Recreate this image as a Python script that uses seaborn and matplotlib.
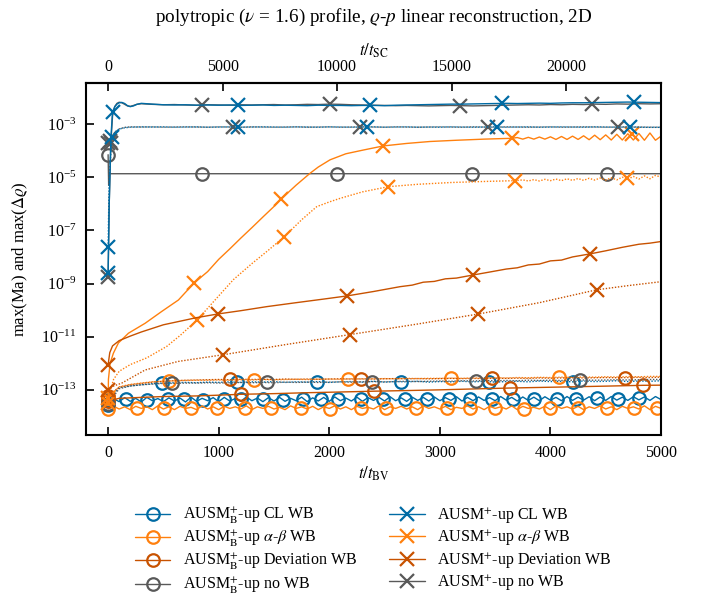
import matplotlib
matplotlib.use("Agg")
import matplotlib.pyplot as plt
from matplotlib.lines import Line2D
from matplotlib.ticker import NullLocator, FixedLocator, LogFormatterSciNotation
import seaborn as sns

# ---------------- data ----------------
T_SC_PER_T_BV = 4.83          # conversion factor of the top axis
T50 = list(range(0, 5001, 50))
T100 = list(range(0, 5001, 100))
T400 = list(range(400, 5001, 100))

# --- AUSM_B^+ -up CL WB (blue, circles)
bcl_solid_y = [
    2.8e-14, 4.6e-14, 3.6e-14, 5.1e-14, 3.7e-14, 4.8e-14, 3.5e-14, 5.2e-14, 3.9e-14, 4.7e-14,
    3.6e-14, 5.0e-14, 3.8e-14, 4.9e-14, 3.5e-14, 5.3e-14, 3.7e-14, 4.8e-14, 3.9e-14, 5.1e-14,
    3.6e-14, 5.2e-14, 3.8e-14, 4.7e-14, 3.7e-14, 5.4e-14, 3.9e-14, 4.9e-14, 3.6e-14, 5.1e-14,
    3.8e-14, 5.2e-14, 3.7e-14, 4.8e-14, 3.9e-14, 5.3e-14, 3.6e-14, 5.0e-14, 3.8e-14, 5.2e-14,
    3.7e-14, 5.4e-14, 3.9e-14, 4.9e-14, 3.8e-14, 5.3e-14, 3.7e-14, 5.1e-14, 4.0e-14, 5.2e-14,
    3.8e-14, 5.5e-14, 3.9e-14, 5.0e-14, 3.7e-14, 5.3e-14, 4.0e-14, 5.2e-14, 3.8e-14, 5.4e-14,
    3.9e-14, 5.1e-14, 4.0e-14, 5.5e-14, 3.8e-14, 5.2e-14, 3.9e-14, 5.4e-14, 4.0e-14, 5.1e-14,
    3.9e-14, 5.6e-14, 4.1e-14, 5.2e-14, 3.8e-14, 5.4e-14, 4.0e-14, 5.3e-14, 3.9e-14, 5.5e-14,
    4.1e-14, 5.2e-14, 3.9e-14, 5.6e-14, 4.0e-14, 5.3e-14, 4.1e-14, 5.5e-14, 3.9e-14, 5.4e-14,
    4.0e-14, 5.6e-14, 4.1e-14, 5.3e-14, 4.0e-14, 5.5e-14, 4.2e-14, 5.4e-14, 4.0e-14, 5.6e-14,
    4.3e-14]
bcl_solid_mt = [0, 166, 355, 538, 690, 862, 1045, 1200, 1400, 1580, 1762, 1924, 2079, 2286,
                2490, 2683, 2883, 3080, 3269, 3469, 3666, 3855, 4062, 4234, 4424, 4614, 4800]
bcl_solid_my = [2.8e-14, 4.4e-14, 4.3e-14, 4.5e-14, 4.4e-14, 4.3e-14, 4.5e-14, 4.4e-14, 4.5e-14,
                4.3e-14, 4.5e-14, 4.6e-14, 4.4e-14, 4.6e-14, 4.5e-14, 4.4e-14, 4.6e-14, 4.5e-14,
                4.7e-14, 4.6e-14, 4.5e-14, 4.7e-14, 4.6e-14, 4.7e-14, 4.8e-14, 4.6e-14, 4.8e-14]
bcl_dot_y = [
    0.40e-13, 1.20e-13, 1.40e-13, 1.55e-13, 1.70e-13, 1.80e-13, 1.85e-13, 1.90e-13, 1.85e-13, 1.95e-13,
    1.90e-13, 2.00e-13, 1.90e-13, 2.00e-13, 1.95e-13, 2.05e-13, 1.90e-13, 2.00e-13, 1.95e-13, 2.05e-13,
    1.90e-13, 2.00e-13, 2.05e-13, 1.95e-13, 2.10e-13, 1.95e-13, 2.05e-13, 2.00e-13, 2.10e-13, 1.95e-13,
    2.05e-13, 2.00e-13, 2.10e-13, 2.00e-13, 2.10e-13, 1.95e-13, 2.05e-13, 2.10e-13, 2.00e-13, 2.15e-13,
    2.05e-13, 2.10e-13, 2.00e-13, 2.15e-13, 2.05e-13, 2.10e-13, 2.20e-13, 2.05e-13, 2.15e-13, 2.10e-13,
    2.20e-13]
bcl_dot_mt = [0, 490, 1170, 1890, 2650, 3440, 4200]
bcl_dot_my = [4.0e-14, 1.8e-13, 2.0e-13, 2.0e-13, 2.05e-13, 2.0e-13, 2.0e-13]

# --- AUSM_B^+ -up alpha-beta WB (orange, circles)
bab_solid_y = [
    1.9e-14, 2.4e-14, 1.9e-14, 2.3e-14, 1.8e-14, 2.4e-14, 2.0e-14, 2.3e-14, 1.8e-14, 2.5e-14,
    1.9e-14, 2.3e-14, 1.8e-14, 2.4e-14, 2.0e-14, 2.2e-14, 1.8e-14, 2.5e-14, 1.9e-14, 2.3e-14,
    1.8e-14, 2.4e-14, 2.0e-14, 2.3e-14, 1.9e-14, 2.5e-14, 1.8e-14, 2.3e-14, 2.0e-14, 2.4e-14,
    1.9e-14, 2.2e-14, 1.8e-14, 2.5e-14, 2.0e-14, 2.3e-14, 1.9e-14, 2.4e-14, 1.8e-14, 2.3e-14,
    2.0e-14, 2.5e-14, 1.9e-14, 2.3e-14, 1.8e-14, 2.4e-14, 2.0e-14, 2.2e-14, 1.9e-14, 2.5e-14,
    1.8e-14, 2.3e-14, 2.0e-14, 2.4e-14, 1.9e-14, 2.3e-14, 1.8e-14, 2.5e-14, 2.0e-14, 2.3e-14,
    1.9e-14, 2.4e-14, 1.8e-14, 2.2e-14, 2.0e-14, 2.5e-14, 1.9e-14, 2.3e-14, 1.8e-14, 2.4e-14,
    2.0e-14, 2.3e-14, 1.9e-14, 2.5e-14, 1.8e-14, 2.4e-14, 2.0e-14, 2.2e-14, 1.9e-14, 2.4e-14,
    1.8e-14, 2.5e-14, 2.0e-14, 2.3e-14, 1.9e-14, 2.4e-14, 1.8e-14, 2.3e-14, 2.0e-14, 2.5e-14,
    1.9e-14, 2.3e-14, 1.8e-14, 2.4e-14, 2.0e-14, 2.3e-14, 1.9e-14, 2.5e-14, 1.8e-14, 2.4e-14,
    2.0e-14]
bab_solid_mt = [0, 262, 503, 752, 986, 1241, 1476, 1745, 2010, 2286, 2510, 2786, 3062, 3269,
                3503, 3759, 4000, 4252, 4510, 4759, 4966]
bab_solid_my = [1.9e-14, 2.1e-14, 2.1e-14, 2.0e-14, 2.1e-14, 2.0e-14, 2.1e-14, 2.0e-14, 1.9e-14,
                2.1e-14, 2.0e-14, 2.1e-14, 2.0e-14, 2.1e-14, 2.0e-14, 1.9e-14, 2.1e-14, 2.0e-14,
                2.1e-14, 2.0e-14, 2.1e-14]
bab_dot_y = [
    0.50e-13, 1.30e-13, 1.60e-13, 1.80e-13, 2.00e-13, 2.10e-13, 2.20e-13, 2.25e-13, 2.30e-13, 2.30e-13,
    2.35e-13, 2.30e-13, 2.40e-13, 2.35e-13, 2.45e-13, 2.40e-13, 2.45e-13, 2.50e-13, 2.45e-13, 2.50e-13,
    2.55e-13, 2.50e-13, 2.60e-13, 2.55e-13, 2.60e-13, 2.65e-13, 2.60e-13, 2.70e-13, 2.65e-13, 2.70e-13,
    2.70e-13, 2.75e-13, 2.70e-13, 2.80e-13, 2.75e-13, 2.85e-13, 2.80e-13, 2.90e-13, 2.85e-13, 2.95e-13,
    2.90e-13, 3.00e-13, 2.95e-13, 3.05e-13, 3.00e-13, 3.10e-13, 3.05e-13, 3.15e-13, 3.10e-13, 3.20e-13,
    3.20e-13]
bab_dot_mt = [0, 552, 1320, 2165, 3097, 4079]
bab_dot_my = [5.0e-14, 2.2e-13, 2.4e-13, 2.6e-13, 2.7e-13, 3.0e-13]

# --- AUSM_B^+ -up Deviation WB (dark orange, circles)
bdev_solid_t = [0, 100, 300, 500, 800, 1000, 1200, 1500, 1800, 2100, 2407, 2700, 3000, 3300,
                3631, 3900, 4200, 4500, 4838, 5000]
bdev_solid_y = [3.8e-14, 4.8e-14, 5.2e-14, 5.6e-14, 5.9e-14, 6.3e-14, 6.8e-14, 7.2e-14, 7.8e-14,
                8.3e-14, 8.9e-14, 9.4e-14, 1.00e-13, 1.08e-13, 1.17e-13, 1.23e-13, 1.30e-13,
                1.38e-13, 1.48e-13, 1.50e-13]
bdev_solid_mt = [0, 1200, 2407, 3631, 4838]
bdev_solid_my = [3.8e-14, 6.8e-14, 8.9e-14, 1.17e-13, 1.48e-13]
bdev_dot_y = [
    0.60e-13, 1.25e-13, 1.55e-13, 1.75e-13, 1.95e-13, 2.10e-13, 2.20e-13, 2.30e-13, 2.35e-13, 2.40e-13,
    2.45e-13, 2.40e-13, 2.50e-13, 2.45e-13, 2.50e-13, 2.45e-13, 2.55e-13, 2.50e-13, 2.55e-13, 2.50e-13,
    2.55e-13, 2.60e-13, 2.55e-13, 2.60e-13, 2.55e-13, 2.60e-13, 2.65e-13, 2.60e-13, 2.65e-13, 2.60e-13,
    2.65e-13, 2.70e-13, 2.65e-13, 2.70e-13, 2.65e-13, 2.75e-13, 2.70e-13, 2.75e-13, 2.70e-13, 2.80e-13,
    2.75e-13, 2.80e-13, 2.85e-13, 2.80e-13, 2.85e-13, 2.90e-13, 2.85e-13, 2.90e-13, 2.95e-13, 2.90e-13,
    3.00e-13]
bdev_dot_mt = [0, 1103, 2286, 3469, 4676]
bdev_dot_my = [6.0e-14, 2.45e-13, 2.55e-13, 2.7e-13, 2.9e-13]

# --- AUSM_B^+ -up no WB (grey, circles)
bno_solid_t = [0, 5, 10, 5000]
bno_solid_y = [7.0e-5, 5.0e-6, 1.35e-5, 1.35e-5]
bno_solid_mt = [0, 847, 2067, 3288, 4508]
bno_solid_my = [7.0e-5, 1.35e-5, 1.35e-5, 1.35e-5, 1.35e-5]
bno_dot_y = [
    0.30e-13, 1.10e-13, 1.40e-13, 1.55e-13, 1.65e-13, 1.75e-13, 1.75e-13, 1.80e-13, 1.80e-13, 1.85e-13,
    1.80e-13, 1.85e-13, 1.90e-13, 1.85e-13, 1.90e-13, 1.85e-13, 1.95e-13, 1.90e-13, 1.95e-13, 1.90e-13,
    1.95e-13, 2.00e-13, 1.95e-13, 2.00e-13, 2.05e-13, 2.00e-13, 2.05e-13, 2.10e-13, 2.05e-13, 2.10e-13,
    2.15e-13, 2.10e-13, 2.20e-13, 2.15e-13, 2.25e-13, 2.20e-13, 2.25e-13, 2.20e-13, 2.30e-13, 2.25e-13,
    2.30e-13, 2.25e-13, 2.30e-13, 2.35e-13, 2.30e-13, 2.35e-13, 2.40e-13, 2.35e-13, 2.40e-13, 2.45e-13,
    2.45e-13]
bno_dot_mt = [0, 579, 1441, 2390, 3328, 4269]
bno_dot_my = [3.0e-14, 1.75e-13, 1.9e-13, 2.05e-13, 2.2e-13, 2.3e-13]

# --- AUSM^+ -up CL WB (blue, crosses)
pcl_solid_t = [0, 10, 25, 40, 60, 80, 100, 124, 150, 175, 200, 230, 260, 300] + T400
pcl_solid_y = [2.5e-9, 1.0e-6, 3.0e-4, 2.8e-3, 4.5e-3, 5.6e-3, 6.3e-3, 6.5e-3, 5.9e-3, 4.9e-3,
               4.5e-3, 4.8e-3, 5.5e-3, 6.0e-3,
               5.6e-3, 5.3e-3, 5.2e-3, 5.3e-3, 5.1e-3, 5.2e-3, 5.1e-3, 5.2e-3, 5.0e-3, 5.1e-3,
               5.2e-3, 5.0e-3, 5.1e-3, 5.0e-3, 4.9e-3, 5.1e-3, 5.0e-3, 5.0e-3, 4.9e-3, 5.0e-3,
               5.0e-3, 4.9e-3, 5.1e-3, 5.2e-3, 5.3e-3, 5.4e-3, 5.5e-3, 5.6e-3, 5.6e-3, 5.7e-3,
               5.8e-3, 5.9e-3, 6.0e-3, 5.9e-3, 6.0e-3, 6.1e-3, 6.0e-3, 6.2e-3, 6.3e-3, 6.3e-3,
               6.4e-3, 6.5e-3, 6.6e-3, 6.7e-3, 6.6e-3, 6.5e-3, 6.4e-3]
pcl_solid_mt = [0, 40, 1178, 2369, 3560, 4756]
pcl_solid_my = [2.5e-9, 2.8e-3, 5.1e-3, 5.0e-3, 6.0e-3, 6.6e-3]
pcl_dot_t = [0, 10, 35, 60, 100, 150, 200, 300] + T400
pcl_dot_y = [2.4e-8, 1.0e-5, 3.2e-4, 5.0e-4, 6.5e-4, 7.2e-4, 7.6e-4, 7.8e-4,
             7.7e-4, 7.8e-4, 7.6e-4, 7.7e-4, 7.8e-4, 7.6e-4, 7.7e-4, 7.8e-4, 7.6e-4, 7.7e-4,
             7.8e-4, 7.7e-4, 7.6e-4, 7.8e-4, 7.7e-4, 7.6e-4, 7.8e-4, 7.7e-4, 7.6e-4, 7.7e-4,
             7.8e-4, 7.6e-4, 7.7e-4, 7.8e-4, 7.6e-4, 7.7e-4, 7.6e-4, 7.8e-4, 7.7e-4, 7.6e-4,
             7.7e-4, 7.8e-4, 7.6e-4, 7.7e-4, 7.8e-4, 7.6e-4, 7.7e-4, 7.8e-4, 7.7e-4, 7.6e-4,
             7.8e-4, 7.7e-4, 7.6e-4, 7.7e-4, 7.6e-4, 7.5e-4, 7.5e-4]
pcl_dot_mt = [0, 35, 1175, 2342, 3517, 4720]
pcl_dot_my = [2.4e-8, 3.2e-4, 7.7e-4, 7.6e-4, 7.7e-4, 7.6e-4]

# --- AUSM^+ -up alpha-beta WB (orange, crosses)
pab_solid_t = [0, 3, 18, 48, 93, 184, 335, 485, 636, 780, 900, 1000, 1100, 1200, 1300, 1404,
               1500, 1564, 1700, 1826, 1900, 2007, 2150, 2308, 2490, 2700, 2911, 3150, 3400,
               3650] + list(range(3700, 5001, 50))
pab_solid_y = [3.2e-14, 2.5e-13, 1.0e-12, 2.4e-12, 5.8e-12, 1.35e-11, 3.2e-11, 8.9e-11, 2.4e-10,
               1.07e-9, 2.8e-9, 8.1e-9, 2.0e-8, 5.1e-8, 1.26e-7, 3.3e-7, 7.9e-7, 1.5e-6, 5.0e-6,
               1.4e-5, 2.4e-5, 4.5e-5, 7.6e-5, 1.05e-4, 1.5e-4, 1.86e-4, 2.2e-4, 2.45e-4, 2.7e-4,
               2.9e-4,
               3.1e-4, 2.7e-4, 3.16e-4, 2.7e-4, 3.24e-4, 2.7e-4, 3.3e-4, 2.63e-4, 3.4e-4,
               2.63e-4, 3.5e-4, 2.63e-4, 3.6e-4, 2.57e-4, 3.8e-4, 2.57e-4, 3.9e-4, 2.5e-4,
               4.1e-4, 2.5e-4, 4.3e-4, 2.5e-4, 4.4e-4, 2.45e-4, 4.6e-4, 2.45e-4, 3.5e-4]
pab_solid_mt = [0, 780, 1564, 2490, 3650, 4735]
pab_solid_my = [3.2e-14, 1.07e-9, 1.5e-6, 1.5e-4, 2.9e-4, 4.1e-4]
pab_dot_t = [0, 50, 100, 200, 350, 530, 650, 802, 950, 1133, 1300, 1450, 1594, 1750, 1887,
             2000, 2098, 2300, 2535, 2800, 3100, 3400, 3680] + list(range(3750, 5001, 50))
pab_dot_y = [5.0e-14, 2.5e-13, 5.0e-13, 8.9e-13, 1.6e-12, 4.3e-12, 1.1e-11, 4.1e-11, 2.0e-10,
             1.4e-9, 5.6e-9, 1.8e-8, 5.8e-8, 2.5e-7, 7.8e-7, 1.17e-6, 1.6e-6, 2.8e-6, 4.4e-6,
             5.4e-6, 6.3e-6, 6.9e-6, 7.4e-6,
             7.9e-6, 7.2e-6, 8.1e-6, 7.2e-6, 8.3e-6, 7.4e-6, 8.5e-6, 7.4e-6, 8.7e-6, 7.6e-6,
             8.9e-6, 7.6e-6, 9.1e-6, 7.8e-6, 9.3e-6, 7.8e-6, 9.5e-6, 7.9e-6, 10.0e-6, 8.3e-6,
             10.7e-6, 8.5e-6, 11.2e-6, 8.7e-6, 11.7e-6, 10.0e-6]
pab_dot_mt = [0, 802, 1594, 2535, 3680, 4695]
pab_dot_my = [5.0e-14, 4.1e-11, 5.8e-8, 4.4e-6, 7.4e-6, 9.1e-6]

# --- AUSM^+ -up Deviation WB (dark orange, crosses)
pdev_solid_t = [0, 15, 40, 100, 200, 300, 500, 800, 997, 1200, 1435, 1700, 1950, 2158, 2400,
                2640, 2750, 2850, 2950, 3050, 3150, 3303, 3450, 3600, 3700, 3800, 3900, 4000,
                4100, 4200, 4358, 4500, 4650, 4800, 4900, 5000]
pdev_solid_y = [8.7e-13, 2.5e-12, 4.5e-12, 7.1e-12, 1.05e-11, 1.5e-11, 2.8e-11, 5.2e-11, 7.2e-11,
                9.5e-11, 1.35e-10, 1.9e-10, 2.6e-10, 3.4e-10, 5.0e-10, 7.6e-10, 8.7e-10, 1.12e-9,
                1.2e-9, 1.5e-9, 1.6e-9, 2.1e-9, 2.7e-9, 3.5e-9, 3.9e-9, 5.0e-9, 5.4e-9, 7.1e-9,
                7.6e-9, 1.0e-8, 1.3e-8, 1.7e-8, 2.3e-8, 3.0e-8, 3.3e-8, 3.8e-8]
pdev_solid_mt = [0, 997, 2158, 3303, 4358]
pdev_solid_my = [8.7e-13, 7.2e-11, 3.4e-10, 2.1e-9, 1.3e-8]
pdev_dot_t = [0, 30, 124, 335, 633, 1043, 1600, 2188, 2800, 3346, 3900, 4418, 4700, 5000]
pdev_dot_y = [1.0e-13, 1.3e-13, 1.8e-13, 5.6e-13, 1.17e-12, 2.1e-12, 5.0e-12, 1.2e-11, 3.0e-11,
              7.1e-11, 1.9e-10, 5.8e-10, 8.3e-10, 1.17e-9]
pdev_dot_mt = [0, 1043, 2188, 3346, 4418]
pdev_dot_my = [1.0e-13, 2.1e-12, 1.2e-11, 7.1e-11, 5.8e-10]

# --- AUSM^+ -up no WB (grey, crosses)
pno_solid_t = [0, 10, 25, 40, 60, 80, 100, 124, 150, 175, 200, 230, 260, 300] + T400
pno_solid_y = [1.8e-9, 1.0e-6, 2.0e-4, 2.0e-3, 4.5e-3, 6.0e-3, 6.6e-3, 6.3e-3, 5.5e-3, 4.8e-3,
               4.6e-3, 5.0e-3, 5.5e-3, 5.8e-3,
               5.5e-3, 5.3e-3, 5.4e-3, 5.2e-3, 5.1e-3, 5.3e-3, 5.2e-3, 5.1e-3, 5.3e-3, 5.2e-3,
               5.3e-3, 5.4e-3, 5.2e-3, 5.3e-3, 5.5e-3, 5.4e-3, 5.6e-3, 5.5e-3, 5.3e-3, 5.2e-3,
               5.1e-3, 5.0e-3, 4.9e-3, 5.0e-3, 4.9e-3, 4.8e-3, 4.9e-3, 5.0e-3, 4.9e-3, 4.8e-3,
               4.9e-3, 5.0e-3, 5.1e-3, 5.2e-3, 5.3e-3, 5.2e-3, 5.4e-3, 5.3e-3, 5.5e-3, 5.4e-3,
               5.6e-3, 5.5e-3, 5.7e-3, 5.6e-3, 5.8e-3, 5.7e-3, 5.8e-3]
pno_solid_mt = [0, 25, 847, 2007, 3183, 4373]
pno_solid_my = [1.8e-9, 2.0e-4, 5.2e-3, 5.6e-3, 4.9e-3, 5.5e-3]
pno_dot_t = [0, 20, 50, 100, 150, 200, 300] + T400
pno_dot_y = [1.9e-4, 2.2e-4, 4.5e-4, 6.5e-4, 7.5e-4, 7.8e-4, 7.7e-4,
             7.8e-4, 7.6e-4, 7.7e-4, 7.8e-4, 7.7e-4, 7.6e-4, 7.8e-4, 7.7e-4, 7.6e-4, 7.8e-4,
             7.7e-4, 7.6e-4, 7.7e-4, 7.8e-4, 7.6e-4, 7.7e-4, 7.8e-4, 7.6e-4, 7.7e-4, 7.8e-4,
             7.7e-4, 7.6e-4, 7.8e-4, 7.7e-4, 7.6e-4, 7.7e-4, 7.8e-4, 7.7e-4, 7.6e-4, 7.8e-4,
             7.7e-4, 7.6e-4, 7.8e-4, 7.7e-4, 7.6e-4, 7.7e-4, 7.8e-4, 7.6e-4, 7.7e-4, 7.8e-4,
             7.7e-4, 7.6e-4, 7.7e-4, 7.8e-4, 7.7e-4, 7.6e-4, 7.6e-4]
pno_dot_mt = [0, 20, 1125, 2279, 3439, 4615]
pno_dot_my = [1.9e-4, 2.2e-4, 7.6e-4, 7.7e-4, 7.7e-4, 7.7e-4]

labels = [
    r"AUSM$_\mathrm{B}^{+}$-up CL WB",
    r"AUSM$_\mathrm{B}^{+}$-up $\alpha$-$\beta$ WB",
    r"AUSM$_\mathrm{B}^{+}$-up Deviation WB",
    r"AUSM$_\mathrm{B}^{+}$-up no WB",
    r"AUSM$^{+}$-up CL WB",
    r"AUSM$^{+}$-up $\alpha$-$\beta$ WB",
    r"AUSM$^{+}$-up Deviation WB",
    r"AUSM$^{+}$-up no WB",
]
x_ticks = [0, 1000, 2000, 3000, 4000, 5000]
top_ticks = [0, 5000, 10000, 15000, 20000]
y_ticks = [1e-13, 1e-11, 1e-9, 1e-7, 1e-5, 1e-3]

# ---------------- style ----------------
BLUE, ORANGE, DORANGE, GREY = "#006BA4", "#FF800E", "#C85200", "#595959"

sns.set_theme(style="ticks")
plt.rcParams.update({
    "font.family": ["Liberation Serif", "DejaVu Serif"],
    "mathtext.fontset": "stix",
    "font.size": 11.5,
    "axes.linewidth": 1.5,
    "axes.edgecolor": "black",
    "xtick.color": "black",
    "ytick.color": "black",
    "text.color": "black",
    "axes.labelcolor": "black",
})

fig = plt.figure(figsize=(7.02, 6.03), dpi=100)
ax = fig.add_axes([0.1225, 0.2786, 0.8191, 0.5838])

SOLID = "-"
DOT = (0, (1, 1.2))

series = [
    # B+ (circles)
    (T50, bcl_solid_y, BLUE, SOLID, bcl_solid_mt, bcl_solid_my, "o"),
    (T100, bcl_dot_y, BLUE, DOT, bcl_dot_mt, bcl_dot_my, "o"),
    (T50, bab_solid_y, ORANGE, SOLID, bab_solid_mt, bab_solid_my, "o"),
    (T100, bab_dot_y, ORANGE, DOT, bab_dot_mt, bab_dot_my, "o"),
    (bdev_solid_t, bdev_solid_y, DORANGE, SOLID, bdev_solid_mt, bdev_solid_my, "o"),
    (T100, bdev_dot_y, DORANGE, DOT, bdev_dot_mt, bdev_dot_my, "o"),
    (bno_solid_t, bno_solid_y, GREY, SOLID, bno_solid_mt, bno_solid_my, "o"),
    (T100, bno_dot_y, GREY, DOT, bno_dot_mt, bno_dot_my, "o"),
    # + (crosses)
    (pab_solid_t, pab_solid_y, ORANGE, SOLID, pab_solid_mt, pab_solid_my, "x"),
    (pab_dot_t, pab_dot_y, ORANGE, DOT, pab_dot_mt, pab_dot_my, "x"),
    (pdev_solid_t, pdev_solid_y, DORANGE, SOLID, pdev_solid_mt, pdev_solid_my, "x"),
    (pdev_dot_t, pdev_dot_y, DORANGE, DOT, pdev_dot_mt, pdev_dot_my, "x"),
    (pno_solid_t, pno_solid_y, GREY, SOLID, pno_solid_mt, pno_solid_my, "x"),
    (pno_dot_t, pno_dot_y, GREY, DOT, pno_dot_mt, pno_dot_my, "x"),
    (pcl_solid_t, pcl_solid_y, BLUE, SOLID, pcl_solid_mt, pcl_solid_my, "x"),
    (pcl_dot_t, pcl_dot_y, BLUE, DOT, pcl_dot_mt, pcl_dot_my, "x"),
]

MS = {"o": 9, "x": 10}
for t, y, c, ls, mt, my, mk in series:
    sns.lineplot(x=t, y=y, ax=ax, color=c, linestyle=ls, linewidth=1.0,
                 estimator=None, sort=False, legend=False)
    sns.lineplot(x=mt, y=my, ax=ax, color=c, linestyle="none", marker=mk,
                 markersize=MS[mk], markerfacecolor="none", markeredgecolor=c,
                 markeredgewidth=1.6, estimator=None, sort=False, legend=False)

ax.set_yscale("log")
ax.set_xlim(-200, 5000)
ax.set_ylim(2e-15, 3.5e-2)
ax.yaxis.set_major_locator(FixedLocator(y_ticks))
ax.yaxis.set_major_formatter(LogFormatterSciNotation())
ax.yaxis.set_minor_locator(NullLocator())
ax.set_xticks(x_ticks)
ax.tick_params(axis="both", which="major", direction="in", length=6, width=1.2,
               labelsize=11.5, pad=7)
ax.set_xlabel(r"$t/t_\mathrm{BV}$", labelpad=3)
ax.set_ylabel(r"max(Ma) and max($\Delta\varrho$)", labelpad=8)

secax = ax.secondary_xaxis("top", functions=(lambda v: v * T_SC_PER_T_BV,
                                             lambda v: v / T_SC_PER_T_BV))
secax.set_xticks(top_ticks)
secax.tick_params(direction="in", length=6, width=1.2, labelsize=11.5, pad=5.5)
secax.set_xlabel(r"$t/t_\mathrm{SC}$", labelpad=3)

fig.suptitle(r"polytropic ($\nu$ = 1.6) profile, $\varrho$-$p$ linear reconstruction, 2D",
             fontsize=13.8, x=0.532, y=0.988)

colors = [BLUE, ORANGE, DORANGE, GREY]
handles = [Line2D([], [], color=c, lw=1.0, marker="o", markersize=9, markerfacecolor="none",
                  markeredgecolor=c, markeredgewidth=1.6) for c in colors]
handles += [Line2D([], [], color=c, lw=1.0, marker="x", markersize=10,
                   markeredgecolor=c, markeredgewidth=1.6) for c in colors]
ax.legend(handles, labels, loc="upper center", bbox_to_anchor=(0.5, -0.16), ncol=2,
          frameon=False, fontsize=11.5, handlelength=2.2, handletextpad=0.8,
          columnspacing=2.0, labelspacing=0.2)

fig.savefig("out.png", dpi=100)
